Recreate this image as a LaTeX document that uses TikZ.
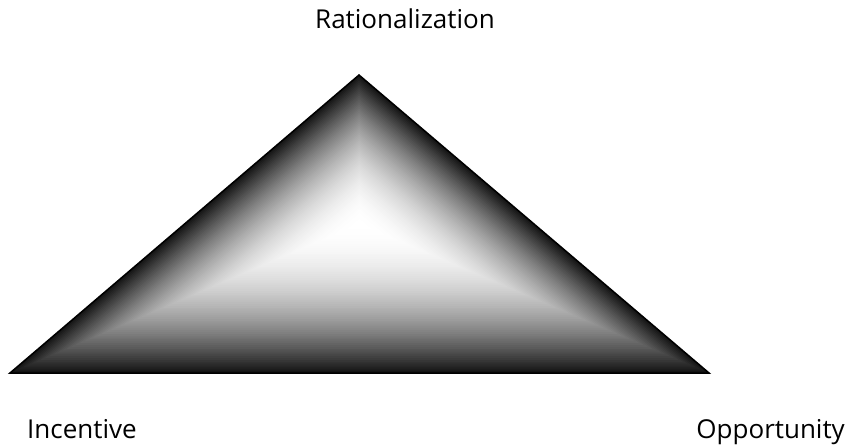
\documentclass[tikz,border=0pt]{standalone}
\usepackage{fontspec}
\setmainfont{Open Sans}
\usetikzlibrary{calc}
\begin{document}
\begin{tikzpicture}[x=1pt,y=-1pt,
  lbl/.style={font=\fontsize{26}{30}\selectfont,inner sep=0pt}]
\useasboundingbox (0,0) rectangle (854,447);
\coordinate (apx) at (359,75);
\coordinate (lft) at (10,373);
\coordinate (rgt) at (709,373);
\coordinate (ctr) at (359.5,224);
% shading from the centre out to the edges
\foreach \i in {80,79,...,1} {
  \pgfmathsetmacro{\t}{\i/80}
  \pgfmathsetmacro{\lvl}{92*\t*\t}
  \fill[black!\lvl] ($(ctr)!\t!(apx)$) -- ($(ctr)!\t!(lft)$) -- ($(ctr)!\t!(rgt)$) -- cycle;
}
\draw[line width=1.5pt] (apx) -- (rgt) -- (lft) -- cycle;
\node (rat) at (405,28) [lbl,anchor=base] {Rationalization};
\node (inc) at (27,438) [lbl,anchor=base west] {Incentive};
\node (opp) at (845,438) [lbl,anchor=base east] {Opportunity};
\end{tikzpicture}
\end{document}
